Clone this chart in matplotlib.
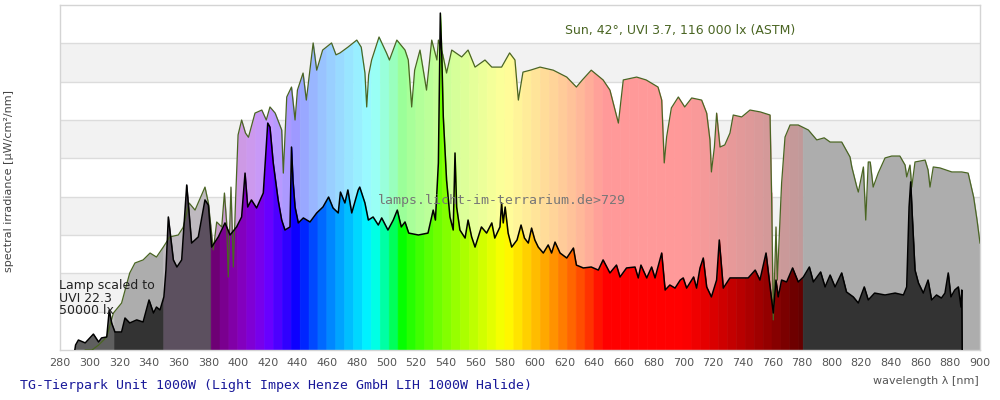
import numpy as np
import matplotlib
matplotlib.use("Agg")
import matplotlib.pyplot as plt

# ---------------- data ----------------
sun_wl = [297, 301.6, 306, 311.5, 316, 321.5, 327, 330.5, 336, 340.7, 345, 349.6, 354, 359.7,
          363, 367, 371, 377.7, 380, 383.3, 385.6, 389, 390.8, 392.3, 393.4, 395.2, 396.8, 398.4,
          400, 402.4, 405, 407, 411.4, 416, 419, 421.5, 425, 429.4, 430.5, 432.8, 436, 438.4, 440,
          443.8, 446, 450.6, 453, 457, 463, 466, 468.7, 474, 480, 483, 485.5, 486.7, 488, 490, 495,
          500, 502, 507, 512.5, 514.7, 517, 519, 522.6, 527, 530.5, 534, 535, 538, 540.5, 544,
          550.7, 555, 559.7, 566.4, 571, 577.6, 583, 586.6, 588.9, 592, 597, 603.5, 612.4, 621.5,
          628, 632, 638, 646, 650.6, 656.3, 659.6, 668.6, 675, 683, 685.5, 687.2, 688.8, 692,
          696.7, 701, 705.7, 712.4, 715.8, 718, 719, 721, 722.5, 724.8, 728, 731.5, 733.7, 739.4,
          745, 752, 758.5, 759.6, 760.7, 762, 762.5, 763.4, 766.3, 768.6, 772, 777.5, 784.3, 790,
          795, 799, 806.8, 812.4, 813.6, 817, 818, 821.4, 823, 824.7, 826, 828, 831.4, 836, 840.5,
          846, 849.5, 850.6, 852.8, 854, 856.2, 863, 865, 866.3, 868.5, 873, 881, 887.7, 892,
          895.7, 898, 900]
sun_val = [0, 0, 2.6, 6.8, 19.3, 24.5, 40.2, 45.4, 47, 50.6, 48.5, 53.7, 59, 60,
           64, 76.7, 73, 85, 76.7, 52.2, 66.8, 64.2, 81.9, 66.3, 38.1, 85, 43.3, 79.8,
           112.2, 120, 113.2, 111, 123.6, 125.2, 120, 126.8, 123.6, 114.8, 92.3, 132, 137.2, 120, 135.6,
           144.5, 130.4, 160.2, 146, 156.5, 160.2, 154, 155, 158, 161.7, 158, 144.5, 126.8, 143.5, 151.3, 163.3,
           155, 151.3, 161.7, 156.5, 151.3, 126.8, 146, 156.5, 135.6, 161.7, 151.3, 161.7, 154, 144.5, 156.5,
           152.9, 156.5, 147.6, 151.3, 147.6, 147.6, 155, 151.3, 130.4, 145, 146, 147.6, 146, 142.4,
           137.2, 140.9, 146, 140.9, 135.6, 118.4, 140.9, 142.4, 140.9, 137.2, 130.4, 97.6, 111.1, 126.3,
           132, 126.8, 131.5, 130.4, 123.6, 109.6, 92.9, 105.9, 123.6, 105.9, 107, 113.2, 122.6, 121.6,
           125.2, 124.2, 122.6, 78.3, 15.7, 52.2, 64.2, 36.5, 87.1, 111.1, 117.4, 117.4, 114.8, 109.6,
           110.7, 108.5, 108.5, 100.7, 95.5, 85, 82.4, 95.5, 67.8, 98.1, 98.1, 85, 92.3, 100.2, 101.2,
           101.2, 96.5, 90.3, 96.5, 85, 98.1, 99.1, 93.9, 85, 95.5, 95, 92.9, 92.9, 92.3,
           79.8, 67.8, 55.8]

lamp_wl = [290, 290.5, 292.4, 297, 302.5, 306, 308, 311.5, 313.2, 314.8, 317, 321.5, 323.8, 327,
           331.7, 336, 340, 343, 345, 347.4, 350, 351.4, 353, 356.4, 358.8, 362, 365.4, 368.7,
           373.2, 377.7, 380, 382.2, 386.7, 391.2, 394.6, 399, 402.4, 404.7, 406.5, 409, 412.5,
           417, 420, 421.5, 423.7, 427, 429.4, 431.6, 435, 436, 437, 438.4, 440.6, 444, 448.5, 453,
           457.2, 461, 464, 467.5, 469, 472, 474, 476.6, 481, 482, 485.5, 487.8, 491, 494.5, 496.8,
           501, 504.6, 507.3, 510, 512.5, 515, 521.5, 528, 531.5, 533, 535, 536, 536.3, 537.2, 538.3,
           540.5, 542.8, 545, 546.2, 547.3, 549.5, 553, 555, 557.4, 559.7, 564, 567.5, 571, 573,
           576.5, 577.6, 578.7, 580, 582, 584.4, 588, 590.7, 593, 595.6, 597.8, 600, 602.3, 605.7,
           609, 611.3, 613.6, 617, 621.5, 626, 628, 632.7, 638, 642.8, 646, 650.6, 655, 657.4,
           661.8, 667.5, 669.7, 671.5, 675.4, 678.7, 681, 685.5, 687.8, 691, 694.5, 698, 700, 702.3,
           707, 709, 711.3, 713.5, 715.8, 719, 722.5, 724.3, 727, 731.5, 737, 743.8, 748.5, 751.7,
           755.8, 757.4, 759.6, 760.7, 762.5, 764, 766.3, 769.7, 773.7, 777.5, 781, 785, 787.7,
           792.6, 795.6, 799, 802.3, 806.8, 810, 814.6, 818, 822, 824.7, 829, 836, 842.8, 848.4,
           850.6, 852.2, 853.3, 854.4, 856.2, 858.5, 861.8, 865, 867.4, 870.7, 874, 876.4, 878.6,
           880.4, 883, 885.4, 887.2, 887.7, 888]
lamp_val = [0, 2.6, 5.2, 3.7, 8.3, 4.2, 6.3, 6.8, 20.9, 14.1, 9.4, 9.4, 16.7, 14.1,
            15.7, 14.6, 26.1, 19.3, 22.4, 20.9, 27.7, 41.7, 69.4, 47, 43.3, 47, 86.1, 55.8,
            59, 78.3, 75.6, 53.7, 59, 66.3, 60, 64.2, 69.4, 92.3, 74.6, 78.3, 74.1,
            81.9, 118.4, 116.3, 97.6, 78.3, 67.8, 62.6, 64.2, 105.9, 88.7, 74.6, 66.3, 68.9, 66.8, 71.5,
            74.6, 79.8, 74.1, 71.5, 82.4, 76.7, 83.5, 71.5, 83.5, 85, 76.7, 67.8, 69.4, 65.2, 68.9,
            62.6, 67.8, 73, 64.2, 66.8, 61, 60, 61, 73, 67.8, 97.6, 156.5, 175.8, 156.5, 121.6,
            88.7, 69.4, 62.6, 102.8, 74.6, 62.6, 58.4, 67.8, 59, 53.7, 64.2, 61, 66.3, 58.4,
            64.2, 76.7, 66.3, 74.6, 61, 53.7, 57.4, 65.2, 58.4, 55.8, 63.6, 57.4, 53.7, 50.6,
            54.8, 50.6, 56.3, 50.6, 48, 53.2, 44.3, 42.8, 43.3, 41.7, 47, 40.2, 44.3, 38.1,
            42.8, 43.3, 37.6, 44.3, 37.6, 43.3, 37.6, 50.6, 31.3, 33.9, 32.3, 36.5, 37.6, 32.3,
            38.1, 32.3, 42.8, 48, 32.9, 27.7, 36.5, 57.4, 32.3, 37.6, 37.6, 37.6, 41.7, 36.5,
            50.6, 40.2, 26.1, 19.3, 36.5, 27.7, 36.5, 35.5, 42.8, 35.5, 38.1, 43.3, 35.5,
            40.7, 32.9, 39.1, 32.9, 40.2, 30.3, 27.7, 24.5, 32.9, 26.1, 29.7, 28.7, 29.7, 28.7,
            32.9, 74.6, 87.7, 69.4, 41.7, 35, 29.7, 36.5, 26.1, 28.7, 27.1, 29.7, 40.2,
            27.7, 31.3, 32.9, 22.4, 31.3, 0]

xticks = list(range(280, 901, 20))
sun_label = "Sun, 42°, UVI 3.7, 116 000 lx (ASTM)"
lamp_label = "Lamp scaled to\nUVI 22.3\n50000 lx"
watermark = "lamps.licht-im-terrarium.de>729"
title = "TG-Tierpark Unit 1000W (Light Impex Henze GmbH LIH 1000W Halide)"
ylabel = "spectral irradiance [µW/cm²/nm]"
xlabel = "wavelength λ [nm]"

# ---------------- colours ----------------
def wl_rgb(w):
    if w < 440:
        r, g, b = -(w - 440) / 60, 0.0, 1.0
    elif w < 490:
        r, g, b = 0.0, (w - 440) / 50, 1.0
    elif w < 510:
        r, g, b = 0.0, 1.0, -(w - 510) / 20
    elif w < 580:
        r, g, b = (w - 510) / 70, 1.0, 0.0
    elif w < 645:
        r, g, b = 1.0, -(w - 645) / 65, 0.0
    else:
        r, g, b = 1.0, 0.0, 0.0
    if w < 420:
        f = 0.3 + 0.7 * (w - 380) / 40
    elif w > 700:
        f = 0.3 + 0.7 * (780 - w) / 80
    else:
        f = 1.0
    return tuple((max(c, 0) * f) ** 0.8 if c > 0 else 0.0 for c in (r, g, b))

def hex2rgb(h):
    h = h.lstrip('#')
    return tuple(int(h[i:i + 2], 16) / 255 for i in (0, 2, 4))

def pale(c, a=0.4):
    return tuple(a * v + (1 - a) for v in c)

bands = [(280, 316.4, hex2rgb('#5f5f5f')), (316.4, 349.6, hex2rgb('#333333')),
         (349.6, 381.5, hex2rgb('#5c505f'))]
edges = list(np.arange(381.5, 780.5, 6.0)) + [780.5]
for a, b in zip(edges[:-1], edges[1:]):
    bands.append((a, b, wl_rgb((a + b) / 2)))
bands.append((780.5, 900, hex2rgb('#333333')))

# ---------------- figure ----------------
fig = plt.figure(figsize=(10, 4), dpi=100)
ax = fig.add_axes([0.06, 0.125, 0.92, 0.8625])
ax.set_xlim(280, 900)
ax.set_ylim(0, 180)

for i in range(9):
    if i % 2 == 1:
        ax.axhspan(i * 20, (i + 1) * 20, color='#f2f2f2', lw=0, zorder=0)
for i in range(1, 9):
    ax.axhline(i * 20, color='#dcdcdc', lw=1, zorder=0.5)

sw = np.array(sun_wl); sv = np.array(sun_val)
lw_ = np.array(lamp_wl); lv = np.array(lamp_val)

def fill_curve(wl, val, lo, hi, colorfn, z):
    for a, b, c in bands:
        a2, b2 = max(a, lo), min(b, hi)
        if a2 >= b2:
            continue
        xb = np.union1d([a2, b2], wl[(wl > a2) & (wl < b2)])
        yb = np.interp(xb, wl, val)
        col = colorfn(c)
        ax.fill_between(xb, 0, yb, facecolor=col, edgecolor=col, lw=0.4, zorder=z)

fill_curve(sw, sv, sw[0], sw[-1], pale, 1)
fill_curve(lw_, lv, lw_[0], lw_[-1], lambda c: c, 2)
ax.plot(sw, sv, color='#4a6523', lw=0.9, zorder=3)
ax.plot(lw_, lv, color='black', lw=1.1, zorder=4)

for s in ax.spines.values():
    s.set_color('#d4d4d4')
    s.set_linewidth(1)
ax.set_yticks([])
ax.set_xticks(xticks)
ax.tick_params(axis='x', length=0, pad=6, labelsize=8, labelcolor='#555555')

# text positions in axes fractions
ax.text(0.674, 0.9275, sun_label, transform=ax.transAxes, color='#4a6523', fontsize=9,
        ha='center', va='center', zorder=6)
ax.text(0.4804, 0.4319, watermark, transform=ax.transAxes, family='DejaVu Sans Mono',
        color='#777777', fontsize=9.5, ha='center', va='center', zorder=6)
fig.text(0.059, 0.255, lamp_label, fontsize=9, color='#222222', ha='left', va='center',
         linespacing=0.92, zorder=6)
fig.text(0.02, 0.0375, title, family='DejaVu Sans Mono', color='#1a1a9a', fontsize=9.5,
         ha='left', va='center')
fig.text(0.979, 0.0475, xlabel, color='#555555', fontsize=8, ha='right', va='center')
fig.text(0.009, 0.5475, ylabel, color='#444444', fontsize=8, rotation=90, ha='center', va='center')

fig.savefig('out.png', dpi=100)
